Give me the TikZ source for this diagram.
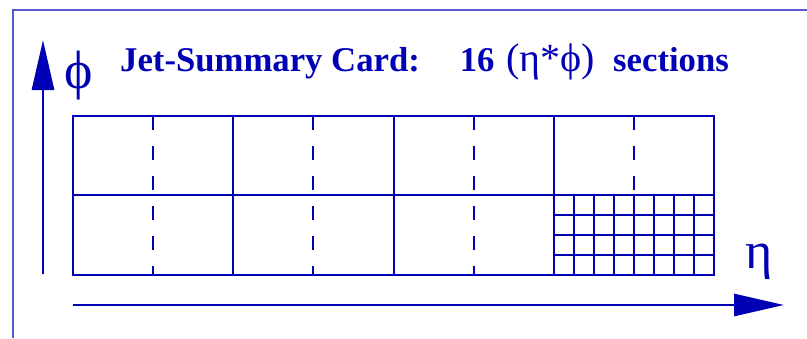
\documentclass[tikz,border=0pt]{standalone}
\usepackage{fontspec}
\setmainfont{Liberation Serif}
\usetikzlibrary{arrows.meta}
\definecolor{cardblue}{RGB}{0,0,180}
\tikzset{
  cell/.style={cardblue, line width=2.6pt},
  fine/.style={cardblue, line width=1.8pt},
  split/.style={cardblue, line width=2.4pt, dash pattern=on 14pt off 16pt},
  axis/.style={cardblue, line width=2.8pt, -{Triangle[length=50pt,width=22pt]}},
}
\begin{document}
\begin{tikzpicture}[x=1pt,y=-1pt]
\useasboundingbox (0,0) rectangle (807,338);
% Frame
\draw[cardblue!65, line width=1.6pt] (13,338) -- (13,10) -- (807,10);
% Fine grid in the last section
\foreach \x in {574,594,...,694} {\draw[fine] (\x,195) -- (\x,275);}
\foreach \y in {215,235,255} {\draw[fine] (554,\y) -- (714,\y);}
% Sections
\draw[cell] (73,116) rectangle (714,275);
\draw[cell] (73,195) -- (714,195);
\foreach \x in {233,394,554} {\draw[cell] (\x,116) -- (\x,275);}
\foreach \x in {153,313,474,634} {\draw[split] (\x,116) -- (\x,275);}
% Axes
\coordinate (phistart) at (43,274);
\coordinate (phiend) at (43,40);
\draw[axis] (phistart) -- (phiend);
\coordinate (etastart) at (73,305);
\coordinate (etaend) at (784,305);
\draw[axis] (etastart) -- (etaend);
\node[cardblue, font=\fontsize{54}{54}\selectfont] (philabel) at (79,76) {ϕ};
\node[cardblue, font=\fontsize{52}{52}\selectfont] (etalabel) at (759,262) {η};
% Title
\node[cardblue, anchor=base west, inner sep=0pt, font=\fontsize{34.7}{40}\selectfont\bfseries] (title) at (120,71)
  {Jet-Summary Card:\hspace{40pt}16\hspace{12pt}{\mdseries\fontsize{40}{40}\selectfont(η*ϕ)}\hspace{18pt}sections};
\end{tikzpicture}
\end{document}
